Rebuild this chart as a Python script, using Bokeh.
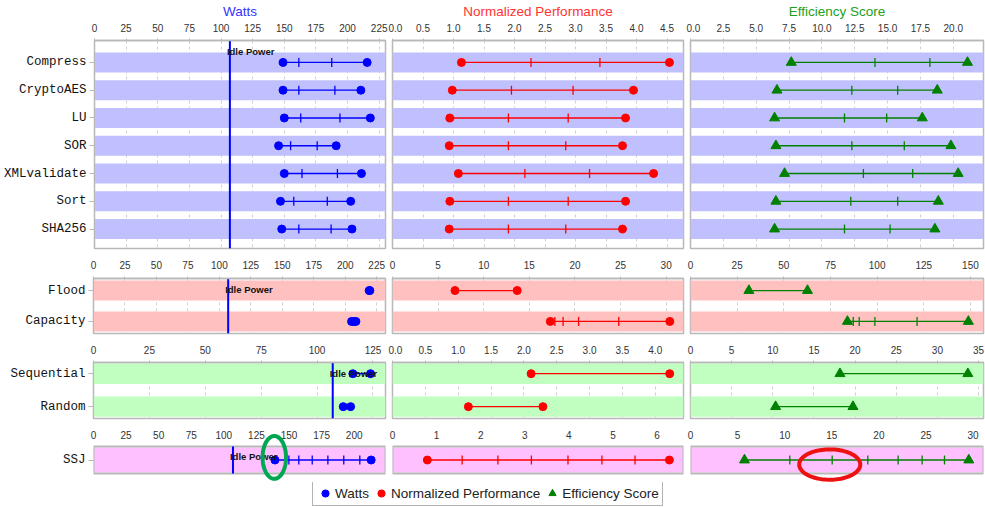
import numpy as np
from bokeh.plotting import figure
from bokeh.models import (Range1d, SingleIntervalTicker, FixedTicker,
                          NumeralTickFormatter, Legend, LegendItem,
                          PolyAnnotation)
from bokeh.layouts import column, row
from bokeh.embed import file_html
from bokeh.resources import INLINE
from bokeh.core.properties import value

# ---------------- data ----------------
series_names = ["Watts", "Normalized Performance", "Efficiency Score"]
series_colors = ["#0000FF", "#FF0000", "#008000"]
series_markers = ["circle", "circle", "triangle"]
title_colors = ["#3333FF", "#FF3333", "#22A022"]

idle_power = 107

cpu_categories = ["Compress", "CryptoAES", "LU", "SOR", "XMLvalidate", "Sort", "SHA256"]
cpu_watts = [
    [149.0, 161.5, 187.5, 215.5],
    [149.0, 161.5, 190.0, 210.5],
    [150.0, 163.0, 194.0, 218.0],
    [145.5, 155.0, 176.0, 191.0],
    [150.0, 164.0, 192.0, 211.0],
    [147.0, 157.5, 184.0, 202.5],
    [148.0, 161.5, 187.0, 203.5],
]
cpu_perf = [
    [1.13, 2.27, 3.40, 4.54],
    [0.98, 1.95, 2.96, 3.95],
    [0.94, 1.90, 2.88, 3.82],
    [0.93, 1.90, 2.84, 3.77],
    [1.08, 2.17, 3.23, 4.28],
    [0.94, 1.90, 2.88, 3.82],
    [0.93, 1.90, 2.84, 3.77],
]
cpu_eff = [
    [7.67, 14.04, 18.22, 21.08],
    [6.58, 12.28, 15.77, 18.78],
    [6.40, 11.72, 14.93, 17.64],
    [6.50, 12.28, 16.27, 19.82],
    [7.16, 13.16, 16.91, 20.37],
    [6.50, 12.20, 15.77, 18.86],
    [6.40, 11.72, 15.19, 18.60],
]

memory_categories = ["Flood", "Capacity"]
memory_watts = [[219.0, 219.6], [205.0, 205.8, 206.5, 207.2, 207.8, 208.5]]
memory_perf = [[6.85, 13.67], [17.3, 17.8, 18.7, 20.4, 24.8, 30.4]]
memory_eff = [[31.3, 62.7], [84.1, 87.2, 90.4, 98.8, 121.4, 148.9]]

storage_categories = ["Sequential", "Random"]
storage_watts = [[116.0, 123.9], [111.7, 115.0]]
storage_perf = [[2.11, 4.22], [1.155, 2.29]]
storage_eff = [[18.16, 33.7], [10.34, 19.74]]

ssj_categories = ["SSJ"]
ssj_watts = [[139.2, 149.9, 157.5, 167.8, 179.8, 192.0, 204.3, 213.0]]
ssj_perf = [[0.79, 1.58, 2.39, 3.15, 3.98, 4.75, 5.50, 6.28]]
ssj_eff = [[5.73, 10.54, 15.04, 18.82, 22.04, 24.59, 26.96, 29.54]]

# axis extents and tick steps per row of panels (Watts, Perf, Efficiency)
axis_max = [[230, 4.77, 22.3], [232, 31.9, 157], [130.6, 4.43, 35.6], [224, 6.6, 31.1]]
axis_step = [[25, 0.5, 2.5], [25, 5, 25], [25, 0.5, 5], [25, 1, 5]]
axis_fmt = [["0", "0.0", "0.0"], ["0", "0", "0"], ["0", "0.0", "0"], ["0", "0", "0"]]

groups = [
    (cpu_categories, [cpu_watts, cpu_perf, cpu_eff]),
    (memory_categories, [memory_watts, memory_perf, memory_eff]),
    (storage_categories, [storage_watts, storage_perf, storage_eff]),
    (ssj_categories, [ssj_watts, ssj_perf, ssj_eff]),
]

# ---------------- layout / style ----------------
panel_w = [388, 298, 299]
borders_lr = [(93, 3), (4, 3), (4, 2)]
row_cfg = [
    dict(height=251, top=40, bottom=3, pad=(0.79, 0.70), band_h=0.72, band="#C0C0FF",
         standoff=5, tall=False),
    dict(height=85, top=27, bottom=3, pad=(0.39, 0.39), band_h=0.65, band="#FFC0C0",
         standoff=6, tall=False),
    dict(height=85, top=26, bottom=3, pad=(0.34, 0.36), band_h=0.62, band="#C0FFC0",
         standoff=5, tall=False),
    # last row: frame is taller than the drawn panel so the highlight rings fit
    dict(height=61, top=9, bottom=0, pad=(1.09, 0.83), band_h=0.92, band="#FFC0FF",
         standoff=-12, tall=True),
]
frame_gray = "#B8B8B8"

figs = []
for r, (cats, series) in enumerate(groups):
    cfg = row_cfg[r]
    n = len(cats)
    ys = list(range(n))
    tall = cfg["tall"]
    if tall:
        panel_top, panel_bottom = -0.5, n - 0.5
    else:
        panel_top, panel_bottom = -cfg["pad"][0], n - 1 + cfg["pad"][1]
    row_figs = []
    for c in range(3):
        vals = series[c]
        left, right = borders_lr[c]
        xmax = axis_max[r][c]
        p = figure(width=panel_w[c], height=cfg["height"], toolbar_location=None,
                   output_backend="svg",
                   x_range=Range1d(0, xmax),
                   y_range=Range1d(n - 1 + cfg["pad"][1], -cfg["pad"][0]),
                   x_axis_location="above",
                   y_axis_location="left" if c == 0 else None,
                   min_border_left=left, min_border_right=right,
                   min_border_top=cfg["top"], min_border_bottom=cfg["bottom"],
                   background_fill_color="white", border_fill_color="white",
                   outline_line_color=None if tall else frame_gray,
                   outline_line_width=1.5)
        ax = p.xaxis[0]
        ax.ticker = SingleIntervalTicker(interval=axis_step[r][c])
        ax.formatter = NumeralTickFormatter(format=axis_fmt[r][c])
        ax.minor_tick_line_color = None
        ax.major_tick_out = 0 if tall else 2
        ax.major_tick_in = 0
        ax.major_tick_line_color = None if tall else frame_gray
        ax.axis_line_color = None if tall else frame_gray
        ax.axis_line_width = 1.5
        ax.major_label_text_font = "Liberation Sans"
        ax.major_label_text_font_size = "10px"
        ax.major_label_text_color = "#333333"
        ax.major_label_standoff = cfg["standoff"]
        if r == 0:
            ax.axis_label = series_names[c]
            ax.axis_label_text_color = title_colors[c]
            ax.axis_label_text_font = "Liberation Sans"
            ax.axis_label_text_font_size = "13.5px"
            ax.axis_label_text_font_style = "normal"
            ax.axis_label_standoff = 2
        p.xgrid.ticker = ax.ticker
        p.xgrid.grid_line_color = "#D0D0D0"
        p.xgrid.grid_line_dash = "3 3"
        p.xgrid.visible = not tall
        p.ygrid.visible = False

        if c == 0:
            ay = p.yaxis[0]
            ay.ticker = FixedTicker(ticks=ys)
            ay.major_label_overrides = {i: cat for i, cat in enumerate(cats)}
            ay.major_label_text_font = "Liberation Mono"
            ay.major_label_text_font_size = "12.5px"
            ay.major_label_text_color = "#111111"
            ay.major_tick_out = 5
            ay.major_tick_in = 0
            ay.major_tick_line_color = frame_gray
            ay.minor_tick_line_color = None
            ay.axis_line_color = None if tall else frame_gray
            ay.major_label_standoff = 3

        # background bands
        p.hbar(y=ys, left=0, right=xmax, height=cfg["band_h"],
               fill_color=cfg["band"], line_color=None)
        if tall:
            p.quad(left=[0], right=[xmax], top=[panel_top], bottom=[panel_bottom],
                   fill_color=None, line_color=frame_gray, line_width=2)

        color = series_colors[c]
        lo = [min(v) for v in vals]
        hi = [max(v) for v in vals]
        p.segment(x0=lo, y0=ys, x1=hi, y1=ys, line_color=color, line_width=1.3)
        mid_x = [x for v in vals for x in sorted(v)[1:-1]]
        mid_y = [i for i, v in enumerate(vals) for _ in sorted(v)[1:-1]]
        if mid_x:
            p.scatter(x=mid_x, y=mid_y, marker="dash", angle=np.pi / 2, size=9,
                      line_color=color, line_width=1.3)
        msize = 10 if series_markers[c] == "triangle" else 8
        p.scatter(x=lo + hi, y=ys + ys, marker=series_markers[c], size=msize,
                  fill_color=color, line_color=color)

        if c == 0:
            p.segment(x0=[idle_power], x1=[idle_power], y0=[panel_top], y1=[panel_bottom],
                      line_color="#0000FF", line_width=2)
            p.text(x=[idle_power], y=[panel_top], text=["Idle Power"],
                   text_baseline="top", text_align="left", x_offset=-3, y_offset=5,
                   text_font=value("Liberation Sans"), text_font_style="bold",
                   text_font_size="9.5px", text_color="#111111")
        row_figs.append(p)
    figs.append(row_figs)

# highlight rings on the SSJ row
t = np.linspace(0, 2 * np.pi, 90)
rings = [
    (figs[3][0], ssj_watts[0][0] - 0.5, -0.096, 9.0, 0.79, "#00A651"),
    (figs[3][2], ssj_eff[0][2] - 0.26, 0.167, 3.24, 0.56, "#EE1111"),
]
for fig, cx, cy, rx, ry, col in rings:
    fig.add_layout(PolyAnnotation(xs=list(cx + rx * np.cos(t)), ys=list(cy + ry * np.sin(t)),
                                  fill_alpha=0, line_color=col, line_alpha=1, line_width=4))

# legend strip
leg = figure(width=985, height=25, toolbar_location=None, output_backend="svg",
             x_range=Range1d(0, 1), y_range=Range1d(0, 1),
             x_axis_location=None, y_axis_location=None, min_border=0,
             outline_line_color=None, background_fill_color="white",
             border_fill_color="white")
leg.grid.visible = False
lr = []
for name, col, mk in zip(series_names, series_colors, series_markers):
    lr.append(leg.scatter(x=[np.nan], y=[np.nan], marker=mk, size=8,
                          fill_color=col, line_color=col))
legend = Legend(items=[LegendItem(label=nm, renderers=[rr]) for nm, rr in zip(series_names, lr)],
                orientation="horizontal", location=(312, 1),
                border_line_color="#666666", border_line_width=1,
                background_fill_color="white", background_fill_alpha=1,
                label_text_font="Liberation Sans", label_text_font_size="13.5px",
                label_text_color="#222222", glyph_width=18, glyph_height=18,
                label_height=16, label_standoff=1, spacing=3, padding=3, margin=0)
leg.add_layout(legend)

layout = column(*[row(*rf) for rf in figs], leg)
open("out.html", "w").write(file_html(layout, INLINE))
